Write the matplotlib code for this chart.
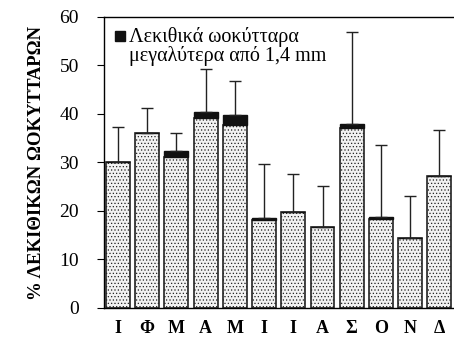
import matplotlib
matplotlib.use("Agg")
import matplotlib.pyplot as plt
import numpy as np

months = ["Ι", "Φ", "Μ", "Α", "Μ", "Ι", "Ι", "Α", "Σ", "Ο", "Ν", "Δ"]
small = [30.0, 36.0, 31.1, 39.2, 37.7, 18.2, 19.7, 16.7, 37.0, 18.4, 14.5, 27.2]
large = [0.0, 0.0, 1.3, 1.3, 2.1, 0.3, 0.0, 0.0, 0.9, 0.4, 0.0, 0.0]
sd = [7.4, 5.2, 3.6, 8.8, 6.9, 11.2, 7.9, 8.5, 18.9, 14.7, 8.5, 9.5]

plt.rcParams["font.family"] = ["Liberation Serif", "DejaVu Serif"]
plt.rcParams["hatch.linewidth"] = 0.5
plt.rcParams["hatch.color"] = "#8a8a8a"

fig = plt.figure(figsize=(4.54, 3.46), dpi=100)
ax = fig.add_axes([0.229, 0.11, 0.771, 0.841])

x = np.arange(len(months))
total = np.array(small) + np.array(large)
w = 0.82
ax.bar(x, small, w, facecolor="#f2f2f2", edgecolor="#222222", hatch=".....", linewidth=1.2)
ax.bar(x, large, w, bottom=small, color="#111111", edgecolor="#111111", linewidth=1.0)
ax.errorbar(x, total, yerr=[np.zeros(len(sd)), sd], fmt="none", ecolor="#222222",
            elinewidth=1.0, capsize=4.3, capthick=1.0)

ax.set_xlim(-0.48, 11.5)
ax.set_ylim(0, 60)
ax.set_yticks(range(0, 61, 10))
ax.tick_params(axis="y", direction="out", length=5, pad=13, labelsize=14, width=0.8)
ax.set_xticks(x, months, fontweight="bold", fontsize=13)
ax.tick_params(axis="x", length=0, pad=9)
ax.spines["right"].set_visible(False)
for s in ("left", "top", "bottom"):
    ax.spines[s].set_linewidth(1.0)
ax.set_ylabel("% ΛΕΚΙΘΙΚΩΝ ΩΟΚΥΤΤΑΡΩΝ", fontweight="bold", fontsize=13.5, labelpad=10)

# legend drawn as marker + text inside the axes
ax.plot([0.046], [0.935], marker="s", ms=7, color="#111111", transform=ax.transAxes)
ax.text(0.072, 0.965, "Λεκιθικά ωοκύτταρα\nμεγαλύτερα από 1,4 mm", transform=ax.transAxes,
        va="top", ha="left", fontsize=14.5, linespacing=0.95)

fig.savefig("out.png", dpi=100)
